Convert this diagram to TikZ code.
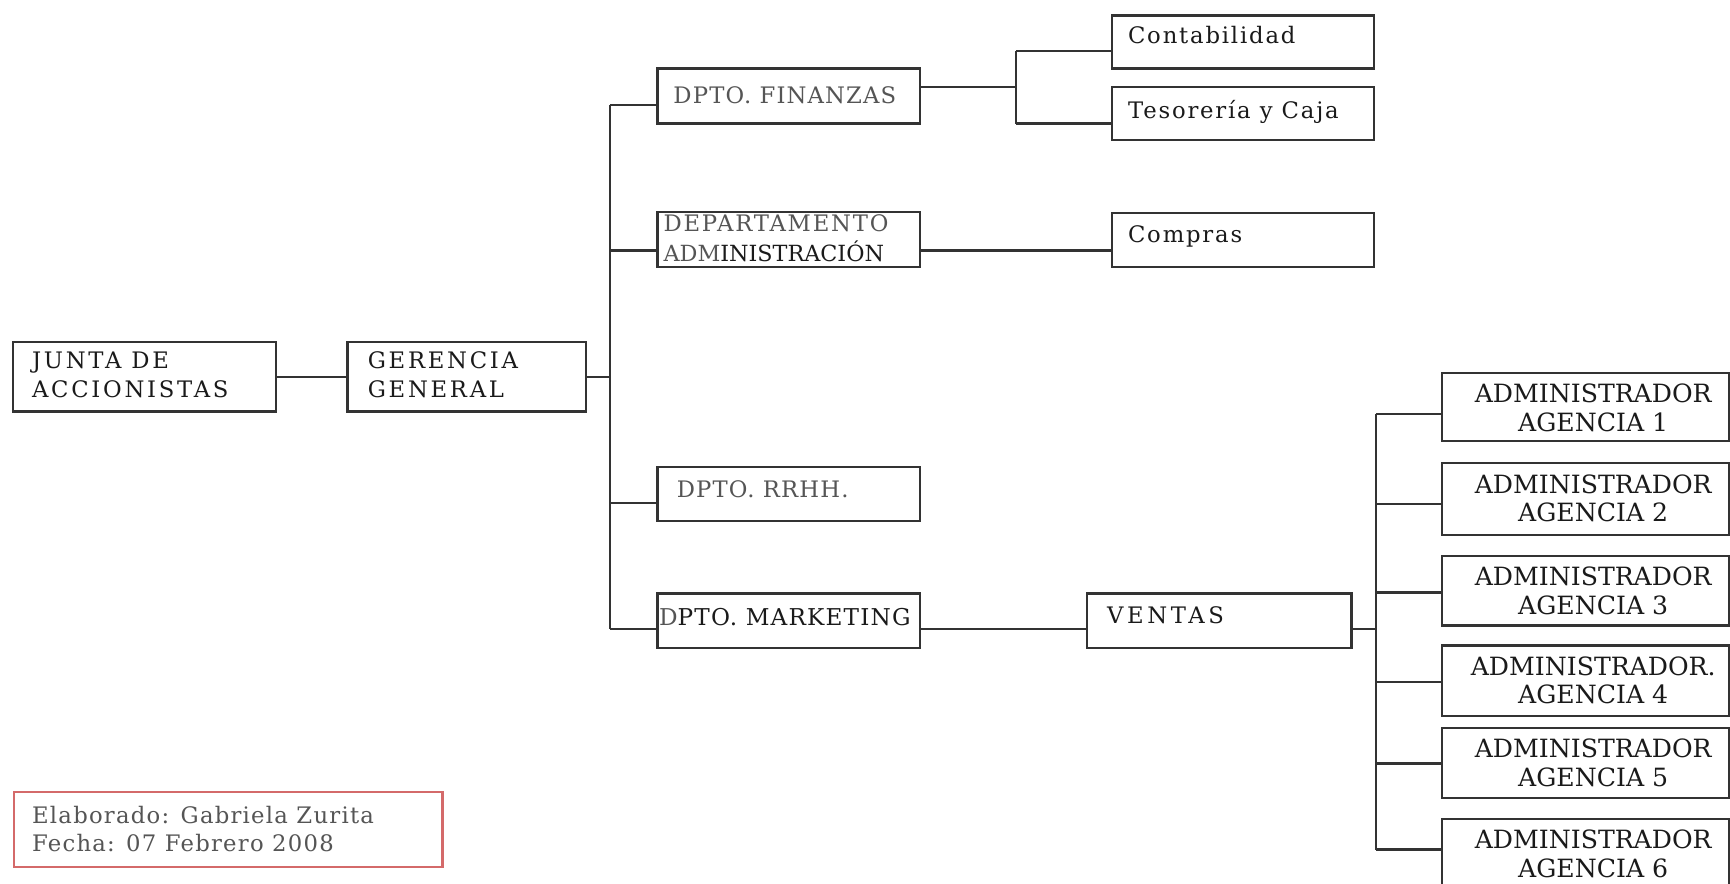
\documentclass[tikz,border=0pt]{standalone}
\usepackage{fontspec}
\setmainfont{DejaVu Serif}
\usetikzlibrary{fit}
\definecolor{ln}{HTML}{333333}
\definecolor{tx}{HTML}{1A1A1A}
\definecolor{gtx}{HTML}{555555}
\definecolor{redb}{HTML}{D46A6A}
\newcommand\fsp[2]{\fontsize{#1}{#1}\selectfont\addfontfeature{LetterSpace=#2}}
\tikzset{
  box/.style={draw=ln, line width=1pt, inner sep=0pt},
  con/.style={draw=ln, line width=1pt},
  txt/.style={inner sep=0pt, anchor=base west, text=tx},
  ctxt/.style={inner sep=0pt, anchor=base, text=tx},
}
\begin{document}
\begin{tikzpicture}[x=0.5pt, y=-0.5pt]
\useasboundingbox (0,0) rectangle (1568,801);
\clip (0,0) rectangle (1568,801);
\fill[white] (0,0) rectangle (1568,801);

% boxes
\node[box, fit={(12,310) (250,373)}] (junta) {};
\node[box, fit={(315,310) (531,373)}] (ger) {};
\node[box, fit={(596,62) (834,112)}] (fin) {};
\node[box, fit={(596,192) (834,242)}] (adm) {};
\node[box, fit={(596,423) (834,472)}] (rrhh) {};
\node[box, fit={(596,538) (834,587)}] (mkt) {};
\node[box, fit={(1008,14) (1245,62)}] (cont) {};
\node[box, fit={(1008,79) (1245,127)}] (teso) {};
\node[box, fit={(1008,193) (1245,242)}] (comp) {};
\node[box, fit={(985,538) (1225,587)}] (ven) {};
\node[box, fit={(1307,338) (1567,400)}] (ag1) {};
\node[box, fit={(1307,420) (1567,485)}] (ag2) {};
\node[box, fit={(1307,504) (1567,567)}] (ag3) {};
\node[box, fit={(1307,585) (1567,649)}] (ag4) {};
\node[box, fit={(1307,660) (1567,723)}] (ag5) {};
\node[box, fit={(1307,742) (1567,830)}] (ag6) {};
\node[box, draw=redb, fit={(13,718) (401,786)}] (foot) {};

% texts
\node[txt] (t-j1) at (28.7,334) {\fsp{10.3}{12}JUNTA DE};
\node[txt] (t-j2) at (28.7,360.5) {\fsp{10.3}{12}ACCIONISTAS};
\node[txt] (t-g1) at (333,334) {\fsp{10.3}{12}GERENCIA};
\node[txt] (t-g2) at (333,360.5) {\fsp{10.3}{12}GENERAL};
\node[txt, text=gtx] (t-fin) at (610,94) {\fsp{10.3}{5}DPTO. FINANZAS};
\node[txt, text=gtx] (t-ad1) at (601,210) {\fsp{10.3}{8}DEPARTAMENTO};
\node[txt] (t-ad2) at (601,237) {\fsp{10.1}{0}{\color{gtx}ADM}INISTRACIÓN};
\node[txt, text=gtx] (t-rh) at (613,451) {\fsp{10.3}{5}DPTO. RRHH.};
\node[txt] (t-mk) at (597,567) {\fsp{10.5}{5}{\color{gtx}D}PTO. MARKETING};
\node[txt] (t-co) at (1022,39) {\fsp{10.3}{8}Contabilidad};
\node[txt] (t-te) at (1022,107) {\fsp{10.3}{8}Tesorería y Caja};
\node[txt] (t-cp) at (1022,220) {\fsp{10.3}{8}Compras};
\node[txt] (t-ve) at (1003,565) {\fsp{10.3}{16}VENTAS};
\node[ctxt] (t-a1a) at (1444,365) {\fsp{11.4}{0}ADMINISTRADOR};
\node[ctxt] (t-a1b) at (1444,391) {\fsp{11.4}{0}AGENCIA 1};
\node[ctxt] (t-a2a) at (1444,447) {\fsp{11.4}{0}ADMINISTRADOR};
\node[ctxt] (t-a2b) at (1444,473) {\fsp{11.4}{0}AGENCIA 2};
\node[ctxt] (t-a3a) at (1444,531) {\fsp{11.4}{0}ADMINISTRADOR};
\node[ctxt] (t-a3b) at (1444,557) {\fsp{11.4}{0}AGENCIA 3};
\node[ctxt] (t-a4a) at (1444,612) {\fsp{11.4}{0}ADMINISTRADOR.};
\node[ctxt] (t-a4b) at (1444,638) {\fsp{11.4}{0}AGENCIA 4};
\node[ctxt] (t-a5a) at (1444,687) {\fsp{11.4}{0}ADMINISTRADOR};
\node[ctxt] (t-a5b) at (1444,713) {\fsp{11.4}{0}AGENCIA 5};
\node[ctxt] (t-a6a) at (1444,769) {\fsp{11.4}{0}ADMINISTRADOR};
\node[ctxt] (t-a6b) at (1444,795) {\fsp{11.4}{0}AGENCIA 6};
\node[txt, text=gtx] (t-f1) at (28.7,746) {\fsp{10.3}{5.5}Elaborado: Gabriela Zurita};
\node[txt, text=gtx] (t-f2) at (28.7,772) {\fsp{10.3}{5.5}Fecha: 07 Febrero 2008};

% junction coordinates
\coordinate (tg) at (553,341.5);
\coordinate (ttop) at (553,95);
\coordinate (tadm) at (553,227);
\coordinate (trh) at (553,456);
\coordinate (tbot) at (553,570);
\coordinate (bf) at (921,79);
\coordinate (bc) at (921,46);
\coordinate (bt) at (921,112);
\coordinate (vb) at (1247,570);
\coordinate (a1) at (1247,375);
\coordinate (a2) at (1247,457);
\coordinate (a3) at (1247,537);
\coordinate (a4) at (1247,618);
\coordinate (a5) at (1247,692);
\coordinate (a6) at (1247,770);

% connectors
\draw[con] (junta.east) -- (ger.west);
\draw[con] (ger.east) -- (tg);
\draw[con] (ttop) -- (tbot);
\draw[con] (ttop) -- (ttop -| fin.west);
\draw[con] (tadm) -- (tadm -| adm.west);
\draw[con] (trh) -- (trh -| rrhh.west);
\draw[con] (tbot) -- (tbot -| mkt.west);
\draw[con] (bf -| fin.east) -- (bf);
\draw[con] (bc) -- (bt);
\draw[con] (bc) -- (bc -| cont.west);
\draw[con] (bt) -- (bt -| teso.west);
\draw[con] (tadm -| adm.east) -- (tadm -| comp.west);
\draw[con] (tbot -| mkt.east) -- (tbot -| ven.west);
\draw[con] (tbot -| ven.east) -- (vb);
\draw[con] (a1) -- (a6);
\draw[con] (a1) -- (a1 -| ag1.west);
\draw[con] (a2) -- (a2 -| ag2.west);
\draw[con] (a3) -- (a3 -| ag3.west);
\draw[con] (a4) -- (a4 -| ag4.west);
\draw[con] (a5) -- (a5 -| ag5.west);
\draw[con] (a6) -- (a6 -| ag6.west);
\end{tikzpicture}
\end{document}
